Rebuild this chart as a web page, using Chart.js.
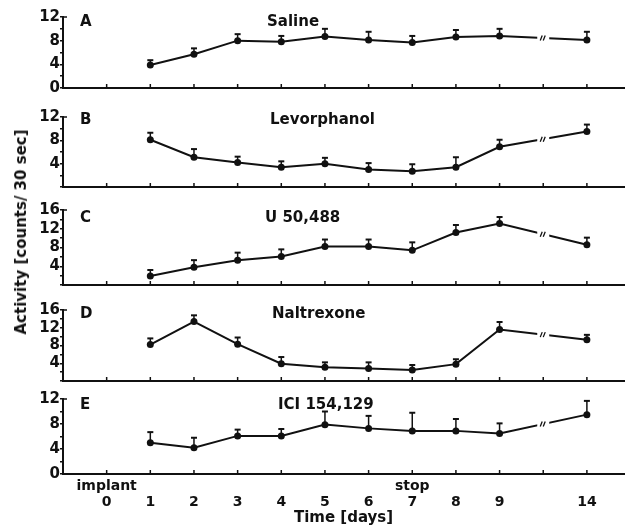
<!DOCTYPE html>
<html>
<head>
<meta charset="utf-8">
<title>Activity over time</title>
<script src="https://cdn.jsdelivr.net/npm/chart.js@4.4.0/dist/chart.umd.min.js"></script>
<style>
  body { margin: 0; background: #fff; }
  #figure { position: relative; width: 628px; height: 527px; overflow: hidden; background: #fff; }
  #figure canvas { position: absolute; left: 0; }
  #y-title {
    position: absolute; left: 21px; top: 232px;
    transform: translate(-50%, -50%) rotate(-90deg);
    font: bold 15px 'DejaVu Sans', sans-serif; white-space: nowrap; color: #111;
  }
</style>
</head>
<body>
<div id="figure">
  <canvas id="panel-a"></canvas>
  <canvas id="panel-b"></canvas>
  <canvas id="panel-c"></canvas>
  <canvas id="panel-d"></canvas>
  <canvas id="panel-e"></canvas>
  <div id="y-title">Activity [counts/ 30 sec]</div>
</div>
<script>
'use strict';

// *************** DATA
let days = ['1', '2', '3', '4', '5', '6', '7', '8', '9', '14'];
// tick marks along the time axis, first one sits on the y axis
let axisDays = ['', '0', '1', '2', '3', '4', '5', '6', '7', '8', '9', '', '14'];
let dayNotes = ['', 'implant', '', '', '', '', '', '', 'stop', '', '', '', ''];

let salineMean = [3.9, 5.7, 8.0, 7.8, 8.7, 8.1, 7.7, 8.6, 8.8, 8.1];
let salineSem = [0.8, 1.0, 1.1, 1.0, 1.3, 1.4, 1.1, 1.2, 1.2, 1.4];

let levorphanolMean = [8.1, 5.1, 4.2, 3.4, 4.0, 3.0, 2.7, 3.4, 6.9, 9.5];
let levorphanolSem = [1.2, 1.4, 1.0, 1.0, 1.0, 1.1, 1.2, 1.7, 1.2, 1.2];

let u50488Mean = [1.9, 3.8, 5.3, 6.1, 8.2, 8.2, 7.4, 11.2, 13.1, 8.6];
let u50488Sem = [1.3, 1.5, 1.6, 1.5, 1.5, 1.5, 1.7, 1.6, 1.4, 1.5];

let naltrexoneMean = [8.2, 13.4, 8.3, 3.9, 3.1, 2.8, 2.5, 3.8, 11.6, 9.3];
let naltrexoneSem = [1.4, 1.4, 1.5, 1.5, 1.1, 1.4, 1.1, 1.1, 1.7, 1.1];

let iciMean = [5.0, 4.2, 6.1, 6.1, 7.9, 7.3, 6.9, 6.9, 6.5, 9.5];
let iciSem = [1.7, 1.6, 1.0, 1.1, 2.1, 2.0, 2.9, 1.9, 1.6, 2.2];

let yLabels12 = ['0', '4', '8', '12'];
let yLabels12NoZero = ['4', '8', '12'];
let yLabels16 = ['4', '8', '12', '16'];

// *************** STYLE
const INK = '#111';
const FONT = '"DejaVu Sans", sans-serif';

// *************** PLUGIN: panel letter, name, axis ticks, error bars, break mark
const panelDecor = {
  id: 'panelDecor',
  beforeDatasetsDraw(chart, args, opts) {
    const { ctx, chartArea } = chart;
    const x = chart.scales.x;
    ctx.save();
    ctx.strokeStyle = INK;
    ctx.lineWidth = 1.5;
    // little upward ticks on the time axis
    for (let i = 1; i < axisDays.length; i++) {
      const px = x.getPixelForValue(i - 1);
      ctx.beginPath();
      ctx.moveTo(px, chartArea.bottom);
      ctx.lineTo(px, chartArea.bottom - 4);
      ctx.stroke();
    }
    // bracket at the top of the y axis
    ctx.beginPath();
    ctx.moveTo(chartArea.left, chartArea.top);
    ctx.lineTo(chartArea.left + 4, chartArea.top);
    ctx.stroke();

    ctx.fillStyle = INK;
    ctx.font = 'bold 15px ' + FONT;
    ctx.textBaseline = 'middle';
    ctx.textAlign = 'left';
    ctx.fillText(opts.letter, opts.letterX, opts.textY);
    ctx.fillText(opts.name, opts.nameX, opts.textY);
    ctx.restore();
  },
  afterDatasetsDraw(chart) {
    const { ctx } = chart;
    const x = chart.scales.x;
    const y = chart.scales.y;
    const ds = chart.data.datasets[0];
    const meta = chart.getDatasetMeta(0);
    ctx.save();
    ctx.strokeStyle = INK;

    // one-sided error bars
    for (let i = 0; i < meta.data.length; i++) {
      const pt = meta.data[i];
      const top = y.getPixelForValue(ds.data[i].y + ds.errors[i]);
      ctx.lineWidth = 1.5;
      ctx.beginPath();
      ctx.moveTo(pt.x, pt.y);
      ctx.lineTo(pt.x, top);
      ctx.stroke();
      ctx.lineWidth = 2;
      ctx.beginPath();
      ctx.moveTo(pt.x - 3, top);
      ctx.lineTo(pt.x + 3, top);
      ctx.stroke();
    }

    // axis break "//" between day 9 and day 14
    const a = meta.data[meta.data.length - 2];
    const b = meta.data[meta.data.length - 1];
    const bx = x.getPixelForValue(axisDays.lastIndexOf('') - 1);
    const by = a.y + (b.y - a.y) * (bx - a.x) / (b.x - a.x);
    ctx.fillStyle = '#fff';
    ctx.fillRect(bx - 6, by - 5, 12, 10);
    ctx.lineWidth = 1.3;
    ctx.beginPath();
    ctx.moveTo(bx - 3, by + 2.5);
    ctx.lineTo(bx - 1, by - 2.5);
    ctx.moveTo(bx, by + 2.5);
    ctx.lineTo(bx + 2, by - 2.5);
    ctx.stroke();
    ctx.restore();
  }
};

// *************** HELPER
function makePanel(cfg) {
  const canvas = document.getElementById(cfg.id);
  const padTop = 16;
  const bottomSpace = cfg.showDays ? 53 : 8;
  const canvasTop = cfg.top - padTop;
  const height = (cfg.bottom - cfg.top) + padTop + bottomSpace;
  canvas.width = 628;
  canvas.height = height;
  canvas.style.top = canvasTop + 'px';

  const points = days.map((d, i) => ({ x: axisDays.indexOf(d) - 1, y: cfg.mean[i] }));

  new Chart(canvas, { // eslint-disable-line
    type: 'line',
    data: {
      datasets: [{
        data: points,
        errors: cfg.sem,
        borderColor: INK,
        borderWidth: 2,
        tension: 0,
        pointRadius: 3.5,
        pointBackgroundColor: INK,
        pointBorderWidth: 0,
        clip: false
      }]
    },
    options: {
      responsive: false,
      animation: false,
      layout: { padding: { top: padTop, left: 33, right: 0, bottom: 0 } },
      plugins: {
        legend: { display: false },
        tooltip: { enabled: false },
        panelDecor: {
          letter: cfg.letter,
          name: cfg.name,
          letterX: 80,
          nameX: cfg.nameX,
          textY: cfg.textY - canvasTop
        }
      },
      scales: {
        x: {
          type: 'linear',
          min: -1,
          max: 11.85,
          afterFit(scale) { scale.height = bottomSpace; },
          afterBuildTicks(scale) { scale.ticks = axisDays.map((d, i) => ({ value: i - 1 })); },
          grid: { display: false, drawTicks: false },
          border: { display: true, color: INK, width: 2 },
          ticks: {
            display: cfg.showDays,
            autoSkip: false,
            maxRotation: 0,
            padding: 4,
            color: INK,
            font: { family: FONT, size: 14, weight: 'bold', lineHeight: 1.15 },
            callback(value) {
              const i = Math.round(value) + 1;
              return [dayNotes[i], axisDays[i]];
            }
          },
          title: {
            display: cfg.showDays,
            text: 'Time [days]',
            color: INK,
            font: { family: FONT, size: 15, weight: 'bold', lineHeight: 1.2 },
            padding: { top: 0, bottom: 0 }
          }
        },
        y: {
          min: 0,
          max: cfg.max,
          afterFit(scale) { scale.width = 30; },
          afterBuildTicks(scale) {
            const t = [];
            for (let v = 0; v <= cfg.max; v += 2) t.push({ value: v });
            scale.ticks = t;
          },
          grid: { drawOnChartArea: false, drawTicks: true, tickLength: 3, color: INK, lineWidth: 1.5 },
          border: { color: INK, width: 2 },
          ticks: {
            autoSkip: false,
            padding: 0,
            color: INK,
            font: { family: FONT, size: 15, weight: 'bold' },
            callback(value) {
              return cfg.yLabels.includes(String(value)) ? String(value) : '';
            }
          }
        }
      }
    },
    plugins: [panelDecor]
  });
}

// *************** EXECUTABLE CODE
makePanel({ id: 'panel-a', letter: 'A', name: 'Saline', mean: salineMean, sem: salineSem,
  max: 12, yLabels: yLabels12, top: 17, bottom: 89, nameX: 267, textY: 22, showDays: false });
makePanel({ id: 'panel-b', letter: 'B', name: 'Levorphanol', mean: levorphanolMean, sem: levorphanolSem,
  max: 12, yLabels: yLabels12NoZero, top: 117, bottom: 188, nameX: 270, textY: 120, showDays: false });
makePanel({ id: 'panel-c', letter: 'C', name: 'U 50,488', mean: u50488Mean, sem: u50488Sem,
  max: 16, yLabels: yLabels16, top: 210, bottom: 286, nameX: 265, textY: 218, showDays: false });
makePanel({ id: 'panel-d', letter: 'D', name: 'Naltrexone', mean: naltrexoneMean, sem: naltrexoneSem,
  max: 16, yLabels: yLabels16, top: 310, bottom: 382, nameX: 272, textY: 314, showDays: false });
makePanel({ id: 'panel-e', letter: 'E', name: 'ICI 154,129', mean: iciMean, sem: iciSem,
  max: 12, yLabels: yLabels12, top: 399, bottom: 474, nameX: 278, textY: 405, showDays: true });
</script>
</body>
</html>
